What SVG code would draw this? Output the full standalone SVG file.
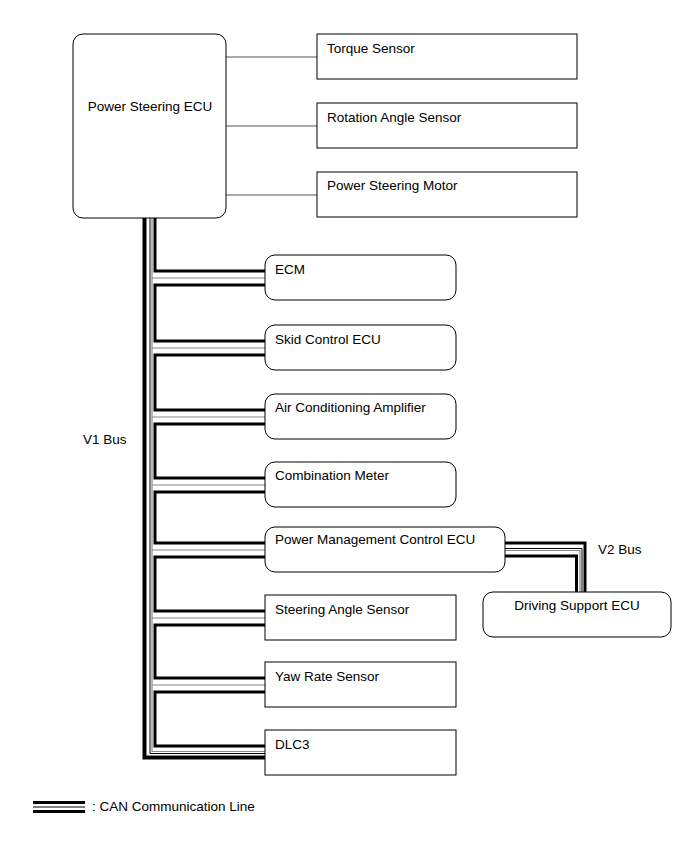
<svg xmlns="http://www.w3.org/2000/svg" width="691" height="854" viewBox="0 0 691 854">
<style>
text{font-family:"Liberation Sans",Arial,sans-serif;font-size:13.5px;fill:#000}
.box{fill:#fff;stroke:#000;stroke-width:1}
.thin{fill:none;stroke:#555;stroke-width:1}
.thick{fill:none;stroke:#000;stroke-width:3;stroke-linejoin:miter}
.outer{fill:none;stroke:#000;stroke-width:4;stroke-linejoin:miter}
.tb{fill:none;stroke:#000;stroke-width:1}
.tg{fill:none;stroke:#888;stroke-width:1.2}
</style>
<rect width="691" height="854" fill="#fff"/>
<g id="connectors">
<path class="thin" d="M226,57H317M226,126H317"/>
<path class="thin" d="M226,195H317" stroke="#888"/>
<path class="outer" d="M144.5,218V757.5H265"/>
<path class="tb" d="M150,218V753.5H265"/>
<path class="tg" d="M152,218V751.5H265"/>
<path class="tg" d="M152,278H265M152,348H265M152,417H265M152,485H265M152,550H265M152,618H265M152,685H265"/>
<path class="thick" d="M155,218V271H265M265,285H155V341H265M265,355H155V410H265M265,424H155V478H265M265,492H155V543H265M265,557H155V611H265M265,625H155V678H265M265,692H155V746H265"/>
<path class="thick" d="M505,543H585V592"/>
<path class="tb" d="M505,548.5H582V592"/>
<path class="tg" d="M505,550.5H580V592"/>
<path class="thick" d="M505,556H576.5V592"/>
</g>
<g id="ps_ecu"><rect class="box" x="73" y="34" width="153" height="184" rx="10"/><text x="150" y="111" text-anchor="middle">Power Steering ECU</text></g>
<g id="torque"><rect class="box" x="317" y="34" width="260" height="45"/><text x="327" y="53">Torque Sensor</text></g>
<g id="rotation"><rect class="box" x="317" y="103" width="260" height="45"/><text x="327" y="122">Rotation Angle Sensor</text></g>
<g id="motor"><rect class="box" x="317" y="172" width="260" height="45"/><text x="327" y="190">Power Steering Motor</text></g>
<g id="ecm"><rect class="box" x="265" y="255" width="191" height="45" rx="10"/><text x="275" y="274">ECM</text></g>
<g id="skid"><rect class="box" x="265" y="325" width="191" height="45" rx="10"/><text x="275" y="344">Skid Control ECU</text></g>
<g id="ac"><rect class="box" x="265" y="394" width="191" height="45" rx="10"/><text x="275" y="412">Air Conditioning Amplifier</text></g>
<g id="meter"><rect class="box" x="265" y="462" width="191" height="45" rx="10"/><text x="275" y="480">Combination Meter</text></g>
<g id="pmc"><rect class="box" x="265" y="527" width="240" height="45" rx="10"/><text x="275" y="544">Power Management Control ECU</text></g>
<g id="sas"><rect class="box" x="265" y="595" width="191" height="45"/><text x="275" y="614">Steering Angle Sensor</text></g>
<g id="yaw"><rect class="box" x="265" y="662" width="191" height="45"/><text x="275" y="681">Yaw Rate Sensor</text></g>
<g id="dlc3"><rect class="box" x="265" y="730" width="191" height="45"/><text x="275" y="749">DLC3</text></g>
<g id="dsecu"><rect class="box" x="483" y="592" width="188" height="45" rx="10"/><text x="577" y="610" text-anchor="middle">Driving Support ECU</text></g>
<text x="83" y="444">V1 Bus</text>
<text x="598" y="554">V2 Bus</text>
<g id="legend">
<rect x="33" y="801" width="52" height="3" fill="#000"/>
<rect x="33" y="806.5" width="52" height="1" fill="#000"/>
<rect x="33" y="810" width="52" height="3" fill="#000"/>
<text x="92" y="811">: CAN Communication Line</text>
</g>
</svg>
